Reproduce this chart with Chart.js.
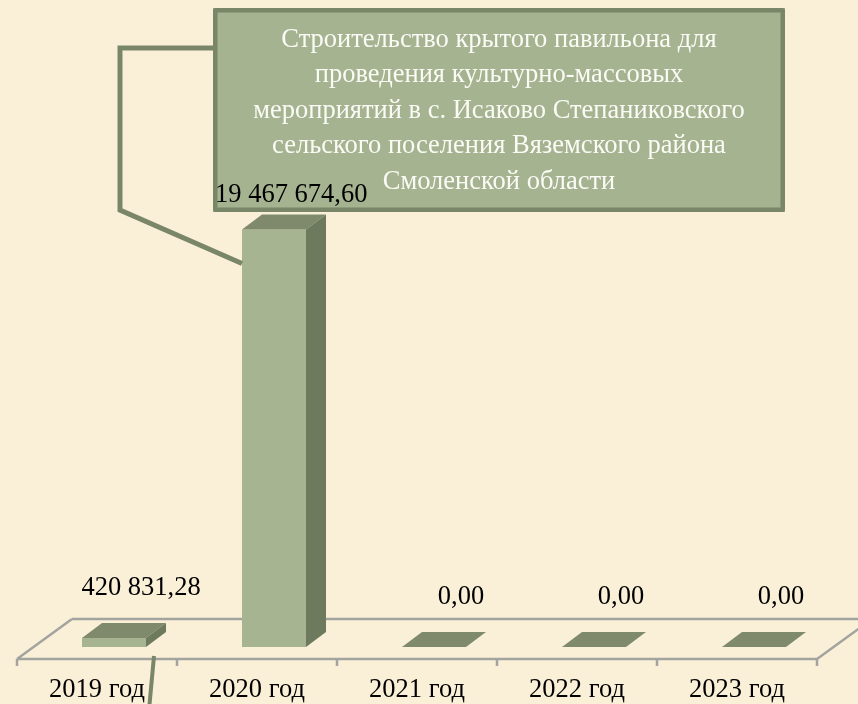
<!DOCTYPE html>
<html>
<head>
<meta charset="utf-8">
<script src="https://cdn.jsdelivr.net/npm/chart.js@4/dist/chart.umd.min.js"></script>
<style>
  html,body{margin:0;padding:0;background:#faf0d8;}
  canvas{display:block;}
</style>
</head>
<body>
<canvas id="c" width="858" height="704"></canvas>
<script>
// data
const categories = ["2019 год","2020 год","2021 год","2022 год","2023 год"];
const values = [420831.28, 19467674.60, 0, 0, 0];
const valueLabels = ["420 831,28","19 467 674,60","0,00","0,00","0,00"];
const calloutLines = [
  "Строительство крытого павильона для",
  "проведения культурно-массовых",
  "мероприятий в с. Исаково Степаниковского",
  "сельского поселения Вяземского района",
  "Смоленской области"
];
const yMax = 20000000;

// colours
const BG = "#faf0d8";
const FRONT = "#a6b491";
const TOP = "#7f8a6c";
const SIDE = "#6e7a5e";
const DARK = "#7a8668";
const FLOOR = "#a3a3a0";
const FONT = "'Liberation Serif', 'Times New Roman', serif";
const FSIZE = "26.5px ";

// depth of the bars (px)
const DX = 20, DY = -15;

function poly(ctx, pts, fill){
  ctx.beginPath();
  ctx.moveTo(pts[0][0], pts[0][1]);
  for (let i=1;i<pts.length;i++) ctx.lineTo(pts[i][0], pts[i][1]);
  ctx.closePath();
  ctx.fillStyle = fill; ctx.fill();
}

const scene3d = {
  id: "scene3d",
  beforeDraw(chart){
    const ctx = chart.ctx;
    ctx.save(); ctx.fillStyle = BG; ctx.fillRect(0,0,chart.width,chart.height); ctx.restore();
  },
  beforeDatasetsDraw(chart){
    const {ctx, chartArea:a, scales:{x}} = chart;
    const fl = a.left-17, fr = a.right-17, fy = a.bottom+12;
    const bl = a.left+38, br = a.right+38, by = a.bottom-28;
    ctx.save();
    ctx.strokeStyle = FLOOR; ctx.lineWidth = 2.5;
    ctx.beginPath();
    ctx.moveTo(bl, by); ctx.lineTo(br, by);
    ctx.moveTo(fl, fy); ctx.lineTo(bl, by);
    ctx.moveTo(fr, fy); ctx.lineTo(br, by);
    ctx.moveTo(fl, fy); ctx.lineTo(fr, fy);
    const step = (a.right-a.left)/categories.length;
    for (let i=0;i<=categories.length;i++){
      ctx.moveTo(fl+i*step, fy); ctx.lineTo(fl+i*step, fy+7);
    }
    ctx.stroke();
    // category labels on the front edge
    ctx.fillStyle = "#000"; ctx.font = FSIZE + FONT;
    ctx.textAlign = "center"; ctx.textBaseline = "middle";
    categories.forEach((c,i)=>{ ctx.fillText(c, x.getPixelForValue(i)-17, fy+31); });
    ctx.restore();
  },
  afterDatasetsDraw(chart){
    const ctx = chart.ctx;
    const bars = chart.getDatasetMeta(0).data;
    ctx.save();
    bars.forEach(b=>{
      const l = b.x-b.width/2, r = b.x+b.width/2;
      poly(ctx, [[l,b.y],[r,b.y],[r+DX,b.y+DY],[l+DX,b.y+DY]], TOP);
      poly(ctx, [[r,b.y],[r+DX,b.y+DY],[r+DX,b.base+DY],[r,b.base]], SIDE);
    });

    // callout box for the 2020 bar
    const box = {l:213, t:8, r:785, b:212};
    const big = bars[1];
    ctx.strokeStyle = DARK; ctx.lineWidth = 5; ctx.lineJoin = "miter";
    ctx.beginPath();
    ctx.moveTo(box.l, 48); ctx.lineTo(120, 48); ctx.lineTo(120, 210);
    ctx.lineTo(big.x-big.width/2, big.y+34);
    ctx.stroke();
    // leader under the 2019 bar
    const small = bars[0];
    ctx.lineWidth = 4;
    ctx.beginPath();
    ctx.moveTo(small.x+40, small.base+9); ctx.lineTo(small.x+35, 710);
    ctx.stroke();

    ctx.fillStyle = "#a5b390";
    ctx.fillRect(box.l, box.t, box.r-box.l, box.b-box.t);
    ctx.lineWidth = 4.5;
    ctx.lineJoin = "round";
    ctx.strokeRect(box.l+2.25, box.t+2.25, box.r-box.l-4.5, box.b-box.t-4.5);
    ctx.fillStyle = "#fbfbf6"; ctx.font = FSIZE + FONT;
    ctx.textAlign = "center"; ctx.textBaseline = "middle";
    calloutLines.forEach((s,i)=>{ ctx.fillText(s, (box.l+box.r)/2, 40+i*35.5); });

    // value labels
    ctx.fillStyle = "#000"; ctx.font = FSIZE + FONT;
    bars.forEach((b,i)=>{
      let y = b.y-50, xx = b.x+27;
      if (y < box.b){ y = box.b-17; ctx.textAlign = "left"; xx = box.l+2; }
      else ctx.textAlign = "center";
      ctx.fillText(valueLabels[i], xx, y);
    });
    ctx.restore();
  }
};

new Chart(document.getElementById("c"), {
  type: "bar",
  data: { labels: categories, datasets: [{ data: values, backgroundColor: FRONT, borderWidth: 0,
    categoryPercentage: 0.8, barPercentage: 0.5 }] },
  options: {
    responsive: false, animation: false,
    layout: { padding: { left: 34, right: 24, top: 218, bottom: 57 } },
    plugins: { legend: { display: false }, tooltip: { enabled: false } },
    scales: {
      x: { display: false },
      y: { display: false, min: 0, max: yMax }
    }
  },
  plugins: [scene3d]
});
</script>
</body>
</html>
